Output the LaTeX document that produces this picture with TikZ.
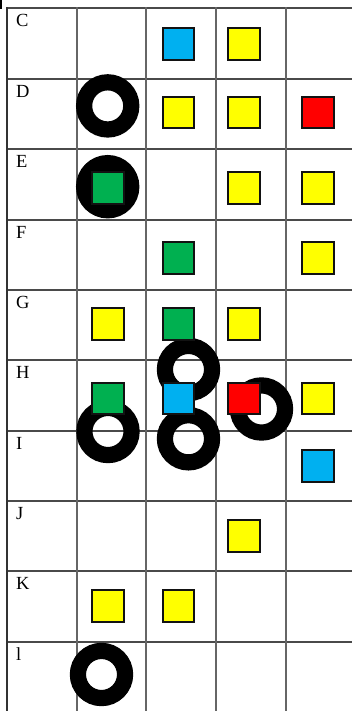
\documentclass[tikz,border=0pt]{standalone}
\usepackage{fontspec}
\setmainfont{Liberation Serif}
\definecolor{cCyan}{HTML}{00B0F0}
\definecolor{cYellow}{HTML}{FFFF00}
\definecolor{cGreen}{HTML}{00B050}
\definecolor{cRed}{HTML}{FF0000}
\definecolor{gridV}{HTML}{666666}
\definecolor{gridH}{HTML}{4A4A4A}
\begin{document}
\begin{tikzpicture}[x=1pt,y=-1pt,
  sq/.style={draw=black!93,line width=2pt,minimum size=31.5pt,inner sep=0pt,outer sep=0pt},
  ring/.style={draw=black,line width=16.2pt,circle,minimum size=47.2pt,inner sep=0pt},
  lbl/.style={anchor=base west,inner sep=0pt,font=\fontsize{18.5}{20}\selectfont},
  hline/.style={draw=gridH,line width=2pt},
  vline/.style={draw=gridV,line width=2pt}]
\useasboundingbox (0,0) rectangle (352,711);
\fill[white] (0,0) rectangle (352,711);
% top-left tick
\fill[black] (0,0) rectangle (2,9.5);
% horizontal lines
\foreach \y/\n in {8.5/0,78.7/1,149/2,219.8/3,290/4,360.2/5,430.8/6,501/7,571/8,641.5/9}{
  \coordinate (hl\n) at (7,\y);
  \coordinate (hr\n) at (352,\y);
  \draw[hline] (hl\n) -- (hr\n);
}
% vertical lines
\foreach \x/\n in {76.7/1,146.2/2,216.2/3,286/4}{
  \coordinate (vt\n) at (\x,7.5);
  \coordinate (vb\n) at (\x,711);
  \draw[vline] (vt\n) -- (vb\n);
}
\coordinate (vt0) at (7.3,7.5);
\coordinate (vb0) at (7.3,711);
\draw[draw=black!80,line width=2pt] (vt0) -- (vb0);
% labels
\node[lbl] (lC) at (16,27) {C};
\node[lbl] (lD) at (16,97.2) {D};
\node[lbl] (lE) at (16,167.5) {E};
\node[lbl] (lF) at (16,238.3) {F};
\node[lbl] (lG) at (16,308.5) {G};
\node[lbl] (lH) at (16,378.7) {H};
\node[lbl] (lI) at (16,449.3) {I};
\node[lbl] (lJ) at (16,519.5) {J};
\node[lbl] (lK) at (16,589.5) {K};
\node[lbl] (ll) at (16,660) {l};
% rings
\node[ring] (rD) at (107.7,105.9) {};
\node[ring] (rE) at (107.7,186.7) {};
\node[ring] (rGH) at (188.5,369.5) {};
\node[ring] (rH) at (261.5,409) {};
\node[ring] (rI2) at (108,431.5) {};
\node[ring] (rI3) at (188.5,438.8) {};
\node[ring] (rl) at (101.5,674.5) {};
% squares (centre = left/top + 16.75)
% C
\node[sq,fill=cCyan] (sC3) at (178.25,44.05) {};
\node[sq,fill=cYellow] (sC4) at (244.05,44.05) {};
% D
\node[sq,fill=cYellow] (sD3) at (178.25,112.75) {};
\node[sq,fill=cYellow] (sD4) at (244.05,112.75) {};
\node[sq,fill=cRed] (sD5) at (317.95,112.75) {};
% E
\node[sq,fill=cGreen] (sE2) at (107.75,188.05) {};
\node[sq,fill=cYellow] (sE4) at (244.05,188.05) {};
\node[sq,fill=cYellow] (sE5) at (317.95,188.05) {};
% F
\node[sq,fill=cGreen] (sF3) at (178.25,257.75) {};
\node[sq,fill=cYellow] (sF5) at (317.95,257.75) {};
% G
\node[sq,fill=cYellow] (sG2) at (107.75,323.75) {};
\node[sq,fill=cGreen] (sG3) at (178.25,323.75) {};
\node[sq,fill=cYellow] (sG4) at (244.05,323.75) {};
% H
\node[sq,fill=cGreen] (sH2) at (107.75,398.45) {};
\node[sq,fill=cCyan] (sH3) at (178.25,398.45) {};
\node[sq,fill=cRed] (sH4) at (244.05,398.45) {};
\node[sq,fill=cYellow] (sH5) at (317.95,398.45) {};
% I
\node[sq,fill=cCyan] (sI5) at (317.95,466.05) {};
% J
\node[sq,fill=cYellow] (sJ4) at (244.05,536.05) {};
% K
\node[sq,fill=cYellow] (sK2) at (107.75,606.05) {};
\node[sq,fill=cYellow] (sK3) at (178.25,606.05) {};
\end{tikzpicture}
\end{document}
